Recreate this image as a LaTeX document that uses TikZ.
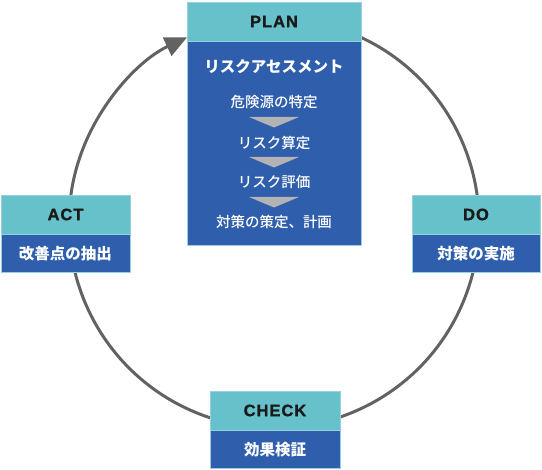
\documentclass[tikz,border=0pt]{standalone}
\usepackage{fontspec}
\setmainfont{Liberation Sans}
\newfontfamily\jp{Noto Sans CJK JP}
\newfontfamily\jpmed{Noto Sans CJK JP Medium}
\newfontfamily\hdrfont{Liberation Sans}[LetterSpace=6, UprightFont=* Bold, FakeBold=1.2]
\usetikzlibrary{arrows.meta}
\definecolor{teal1}{HTML}{67C1CB}
\definecolor{blue1}{HTML}{2F5EAC}
\definecolor{edge1}{HTML}{9ACFE0}
\definecolor{arcgray}{HTML}{626262}
\definecolor{trigray}{HTML}{B3B3B3}
\definecolor{hdrtext}{HTML}{1A1A1A}
\tikzset{
  hdr/.style={fill=teal1, draw=edge1, line width=0.6pt, inner sep=0pt, text=hdrtext,
    font=\hdrfont\fontsize{16.5}{18}\selectfont, minimum height=39pt},
  bodybox/.style={fill=blue1, draw=edge1, line width=0.6pt, inner sep=0pt, text=white,
    font=\jp\bfseries\fontsize{15.5}{18}\selectfont, minimum height=38pt},
  sublabel/.style={text=white, inner sep=0pt, font=\jpmed\fontsize{14.5}{17}\selectfont},
  headlabel/.style={text=white, inner sep=0pt, font=\jp\bfseries\fontsize{15.5}{18}\selectfont},
  cyclearc/.style={draw=arcgray, line width=3pt, -{Triangle[length=22pt, width=20pt]}},
  downtri/.style={fill=trigray}
}
\begin{document}
\begin{tikzpicture}[x=1pt, y=1pt]
\useasboundingbox (0,0) rectangle (542,-470);
% cycle arc (behind boxes)
\coordinate (ctr) at (274,-223);
\draw[cyclearc] ([shift={(ctr)}]67:205) arc[start angle=67, end angle=-244.9, radius=205];
% PLAN
\node[hdr, minimum width=174pt] (planh) at (274,-21.5) {PLAN};
\node[bodybox, minimum width=174pt, minimum height=204pt, anchor=north] (planb) at (planh.south) {};
\node[headlabel] (ra) at (274,-67) {リスクアセスメント};
\node[sublabel] (s1) at (274,-102) {危険源の特定};
\node[sublabel] (s2) at (274,-143) {リスク算定};
\node[sublabel] (s3) at (274,-182) {リスク評価};
\node[sublabel] (s4) at (274,-222) {対策の策定、計画};
\fill[downtri] (249,-117) -- (299,-117) -- (274,-127.5) -- cycle;
\fill[downtri] (249,-157) -- (299,-157) -- (274,-167.5) -- cycle;
\fill[downtri] (249,-197) -- (299,-197) -- (274,-207.5) -- cycle;
% ACT
\node[hdr, minimum width=129pt] (acth) at (65.5,-214.5) {ACT};
\node[bodybox, minimum width=129pt, anchor=north] (actb) at (acth.south) {改善点の抽出};
% DO
\node[hdr, minimum width=128pt] (doh) at (476,-214.5) {DO};
\node[bodybox, minimum width=128pt, anchor=north] (dob) at (doh.south) {対策の実施};
% CHECK
\node[hdr, minimum width=130pt] (checkh) at (275,-410.5) {CHECK};
\node[bodybox, minimum width=130pt, anchor=north] (checkb) at (checkh.south) {効果検証};
\end{tikzpicture}
\end{document}
